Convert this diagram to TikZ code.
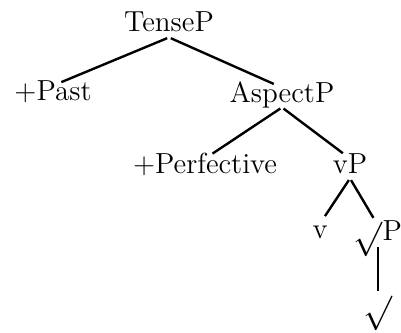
\documentclass[tikz,border=0pt]{standalone}
\usepackage{amsmath, amssymb}
\usepackage{graphicx}
\usepackage{tikz}
\tikzstyle{cat}=[inner sep=0pt, anchor=base, text height=0.7em, text depth=0.25em, font=\fontsize{14.5}{17}\selectfont]
\tikzstyle{branch}=[draw, line width=1.2pt, shorten <=1pt, shorten >=4.5pt]
\newcommand{\cat}{\node[cat]}
\newcommand{\rt}{\raisebox{-0.26em}{\scalebox{1.2}{$\surd$}}}

\begin{document}
\begin{tikzpicture}[x=0.5pt, y=-0.5pt]
			\useasboundingbox (0,0) rectangle (401,332);
			% Projections
			\cat (tp) at (169,32) {TenseP};
			\cat (past) at (53,100) {+Past};
			\cat (asp) at (282,102) {AspectP};
			\cat (perf) at (205,173) {+Perfective};
			\cat (vp) at (350,173) {vP};
			\cat (v) at (320,238) {v};
			\cat (rp) at (378,240) {\rt P};
			\cat (r) at (378,314) {\rt};

			\path
			(tp.south) edge[branch] (past.north)
			(tp.south) edge[branch] (asp.north)
			(asp.south) edge[branch] (perf.north)
			(asp.south) edge[branch] (vp.north)
			(vp.south) edge[branch] (v.north)
			(vp.south) edge[branch] (rp.north)
			(rp.south) edge[branch] (r.north)
			;
		\end{tikzpicture}
\end{document}
